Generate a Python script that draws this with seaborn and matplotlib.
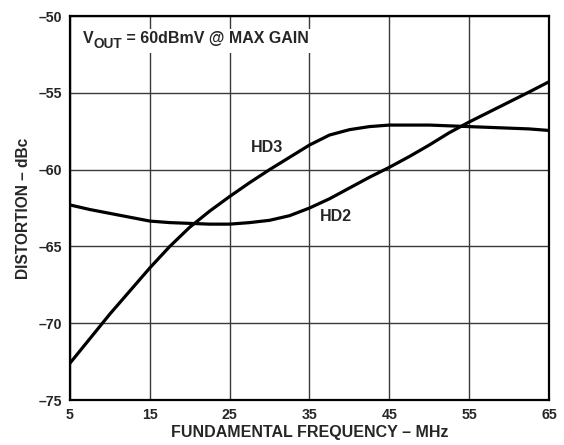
import numpy as np
import pandas as pd
import matplotlib
matplotlib.use("Agg")
import matplotlib.pyplot as plt
from matplotlib.patches import Rectangle
import seaborn as sns

# values (MHz, dBc)
freq = [5, 7.5, 10, 12.5, 15, 17.5, 20, 22.5, 25, 27.5, 30, 32.5, 35,
        37.5, 40, 42.5, 45, 47.5, 50, 52.5, 55, 57.5, 60, 62.5, 65]
hd3 = [-72.6, -71.0, -69.4, -67.9, -66.4, -65.0, -63.75, -62.7, -61.75,
       -60.85, -60.0, -59.2, -58.4, -57.75, -57.4, -57.2, -57.1, -57.1,
       -57.1, -57.15, -57.2, -57.25, -57.3, -57.35, -57.45]
hd2 = [-62.3, -62.6, -62.85, -63.1, -63.35, -63.45, -63.5, -63.55, -63.55,
       -63.45, -63.3, -63.0, -62.5, -61.9, -61.2, -60.5, -59.85, -59.15,
       -58.4, -57.6, -56.9, -56.25, -55.6, -54.95, -54.28]
x_ticks = [5, 15, 25, 35, 45, 55, 65]
y_ticks = [-75, -70, -65, -60, -55, -50]

df = pd.concat([
    pd.DataFrame({"freq": freq, "dist": hd3, "curve": "HD3"}),
    pd.DataFrame({"freq": freq, "dist": hd2, "curve": "HD2"}),
])

sns.set_style("white")
plt.rcParams["font.family"] = ["Liberation Sans", "DejaVu Sans"]
plt.rcParams["font.weight"] = "bold"

fig = plt.figure(figsize=(5.64, 4.45), dpi=100)
ax = fig.add_axes([0.1241, 0.1011, 0.8493, 0.8629])

sns.lineplot(data=df, x="freq", y="dist", units="curve", estimator=None,
             color="black", linewidth=2.3, legend=False, ax=ax, zorder=3)

ax.set_xlim(5, 65)
ax.set_ylim(-75, -50)
ax.set_xticks(x_ticks)
ax.set_xticklabels([str(v) for v in x_ticks])
ax.set_yticks(y_ticks)
ax.set_yticklabels([f"\u2013{abs(v)}" for v in y_ticks])
ax.tick_params(length=0, labelsize=10.2, pad=6)
for lab in ax.get_xticklabels() + ax.get_yticklabels():
    lab.set_fontweight("bold")
ax.grid(True, color="#3a3a3a", linewidth=1.0)
for sp in ax.spines.values():
    sp.set_visible(True)
    sp.set_color("black")
    sp.set_linewidth(1.6)
    sp.set_zorder(4)

ax.set_xlabel("FUNDAMENTAL FREQUENCY \u2013 MHz", fontsize=11.5, fontweight="bold", labelpad=2)
ax.set_ylabel("DISTORTION \u2013 dBc", fontsize=11.2, fontweight="bold", labelpad=5)

# white patch behind the condition note (hides the grid there)
ax.add_patch(Rectangle((0.012, 0.904), 0.494, 0.062, transform=ax.transAxes,
                       facecolor="white", edgecolor="none", zorder=2))

# V_OUT note built from pieces so the subscript stays large
t1 = ax.text(6.6, -51.95, "V", fontsize=11.5, fontweight="bold",
             va="bottom", ha="left", zorder=2.5)
t2 = ax.annotate("OUT", xy=(1, 0), xycoords=t1, xytext=(0, -3.5),
                 textcoords="offset points", fontsize=9.8, fontweight="bold",
                 va="bottom", ha="left", zorder=2.5)
ax.annotate(" = 60dBmV @ MAX GAIN", xy=(1, 0), xycoords=t2, xytext=(0, 3.5),
            textcoords="offset points", fontsize=11.5, fontweight="bold",
            va="bottom", ha="left", zorder=2.5)

ax.text(29.7, -58.56, "HD3", fontsize=11.5, fontweight="bold", ha="center", va="center")
ax.text(38.3, -63.07, "HD2", fontsize=11.5, fontweight="bold", ha="center", va="center")

fig.savefig("out.png", dpi=100)
